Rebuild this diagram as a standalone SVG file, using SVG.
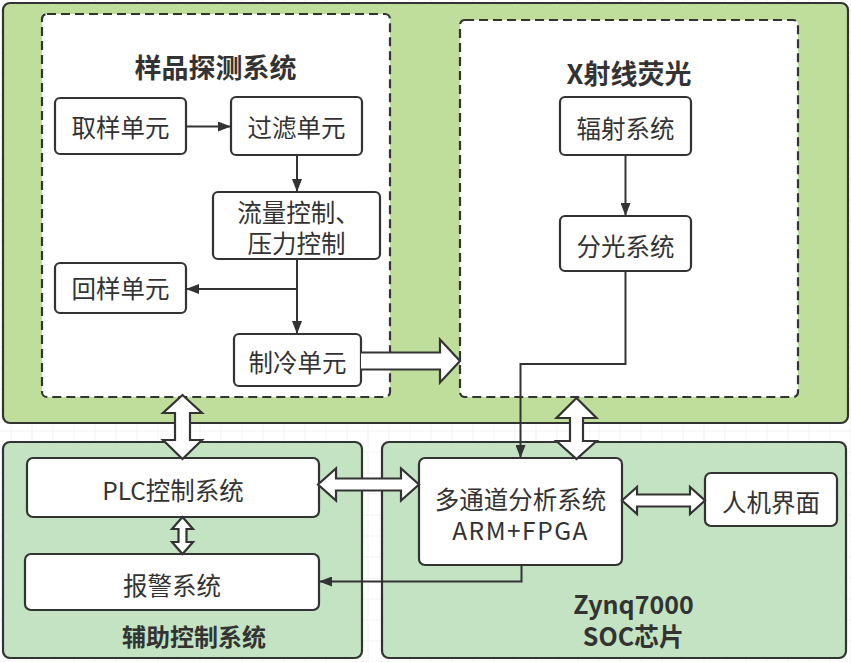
<svg xmlns="http://www.w3.org/2000/svg" width="851" height="662" viewBox="0 0 851 662">
<defs>
<pattern id="grid" x="10.5" y="10.5" width="21" height="21" patternUnits="userSpaceOnUse">
<path d="M0,0 H21 M0,0 V21" fill="none" stroke="#e6e6e6" stroke-width="1"/>
</pattern>
<marker id="ah" viewBox="0 0 13 10" refX="13" refY="5" markerWidth="13" markerHeight="10" markerUnits="userSpaceOnUse" orient="auto">
<path d="M0,0 L13,5 L0,10 Z" fill="#333"/>
</marker>
<style>
.outer{stroke:#333;stroke-width:2.2}
.dash{fill:#fff;stroke:#333;stroke-width:2.2;stroke-dasharray:9 5}
.node{fill:#fff;stroke:#333;stroke-width:2.2}
.t{font-family:"Microsoft YaHei","Noto Sans CJK SC","Noto Sans",sans-serif;font-size:24.5px;fill:#333;text-anchor:middle;dominant-baseline:central}
.b{font-weight:bold;font-size:27px}
.con{fill:none;stroke:#333;stroke-width:2}
.blk{fill:#fff;stroke:#333;stroke-width:2.2;stroke-linejoin:miter}
</style>
</defs>
<rect width="851" height="662" fill="#fff"/>
<rect width="851" height="662" fill="url(#grid)"/>

<g id="container-top">
<rect class="outer" x="3" y="3" width="845" height="420" rx="7" fill="#c0de9b"/>
</g>
<g id="container-aux">
<rect class="outer" x="3" y="442" width="359" height="216" rx="7" fill="#c3e3c2"/>
<text class="t b" x="194" y="635" style="font-size:24px">辅助控制系统</text>
</g>
<g id="container-soc">
<rect class="outer" x="382" y="442" width="464" height="216" rx="7" fill="#c3e3c2"/>
<text class="t b" x="633.5" y="603" style="font-size:25px">Zynq7000</text>
<text class="t b" x="633.5" y="635" style="font-size:25px">SOC芯片</text>
</g>
<g id="group-sample">
<rect class="dash" x="42" y="14" width="348" height="383" rx="5"/>
<text class="t b" x="215.5" y="66">样品探测系统</text>
</g>
<g id="group-xrf">
<rect class="dash" x="460" y="20" width="338" height="377" rx="5"/>
<text class="t b" x="629" y="72">X射线荧光</text>
</g>

<g id="n-quyang"><rect class="node" x="55" y="98" width="131" height="56" rx="5"/><text class="t" x="120.5" y="126.5">取样单元</text></g>
<g id="n-guolv"><rect class="node" x="231" y="97" width="131" height="58" rx="5"/><text class="t" x="296.5" y="126.5">过滤单元</text></g>
<g id="n-liuliang"><rect class="node" x="213" y="192" width="167" height="67" rx="5"/><text class="t" x="298.5" y="211">流量控制、</text><text class="t" x="296.5" y="242">压力控制</text></g>
<g id="n-huiyang"><rect class="node" x="55" y="263" width="131" height="50" rx="5"/><text class="t" x="120.5" y="287">回样单元</text></g>
<g id="n-zhileng"><rect class="node" x="234" y="334" width="127" height="52" rx="5"/><text class="t" x="297.5" y="361.5">制冷单元</text></g>
<g id="n-fushe"><rect class="node" x="560" y="97" width="131" height="58" rx="5"/><text class="t" x="625.5" y="127.5">辐射系统</text></g>
<g id="n-fenguang"><rect class="node" x="560" y="216" width="131" height="55" rx="5"/><text class="t" x="625.5" y="245">分光系统</text></g>
<g id="n-plc"><rect class="node" x="27" y="458" width="292" height="59" rx="6"/><text class="t" x="173" y="489.5">PLC控制系统</text></g>
<g id="n-baojing"><rect class="node" x="25" y="554" width="294" height="56" rx="6"/><text class="t" x="172" y="584">报警系统</text></g>
<g id="n-duotongdao"><rect class="node" x="419" y="458" width="203" height="107" rx="6"/><text class="t" x="520.5" y="498">多通道分析系统</text><text class="t" x="520.5" y="529" style="letter-spacing:1.5px">ARM+FPGA</text></g>
<g id="n-renji"><rect class="node" x="705" y="473" width="132" height="53" rx="6"/><text class="t" x="771" y="501.5">人机界面</text></g>

<g id="connectors">
<path class="con" d="M186,126.5 H231" marker-end="url(#ah)"/>
<path class="con" d="M297,155 V192" marker-end="url(#ah)"/>
<path class="con" d="M297,259 V334" marker-end="url(#ah)"/>
<path class="con" d="M297,289 H186" marker-end="url(#ah)"/>
<path class="con" d="M625.5,155 V216" marker-end="url(#ah)"/>
<path class="con" d="M625.5,271 V364 H520.5 V458" marker-end="url(#ah)"/>
<path class="con" d="M521.5,565 V581.5 H319" marker-end="url(#ah)"/>
<path class="blk" d="M361,352.5 L440,352.5 L440,339.5 L460,361 L440,382.5 L440,369.5 L361,369.5"/>
<path class="blk" d="M182.5,395 L202,413 L190,413 L190,440 L202,440 L182.5,459 L163,440 L175,440 L175,413 L163,413 Z"/>
<path class="blk" d="M576.5,398 L596.5,418 L583,418 L583,441 L596.5,441 L576.5,459 L556.5,441 L570,441 L570,418 L556.5,418 Z"/>
<path class="blk" d="M318,484.5 L336,468.5 L336,478.5 L401,478.5 L401,468.5 L419,484.5 L401,500.5 L401,490.5 L336,490.5 L336,500.5 Z"/>
<path class="blk" d="M182.5,517 L193,529 L186.5,529 L186.5,542 L193,542 L182.5,554 L172,542 L178.5,542 L178.5,529 L172,529 Z"/>
<path class="blk" d="M622,500.5 L637,487 L637,494.5 L690,494.5 L690,487 L705,500.5 L690,514 L690,506.5 L637,506.5 L637,514 Z"/>
</g>
</svg>
